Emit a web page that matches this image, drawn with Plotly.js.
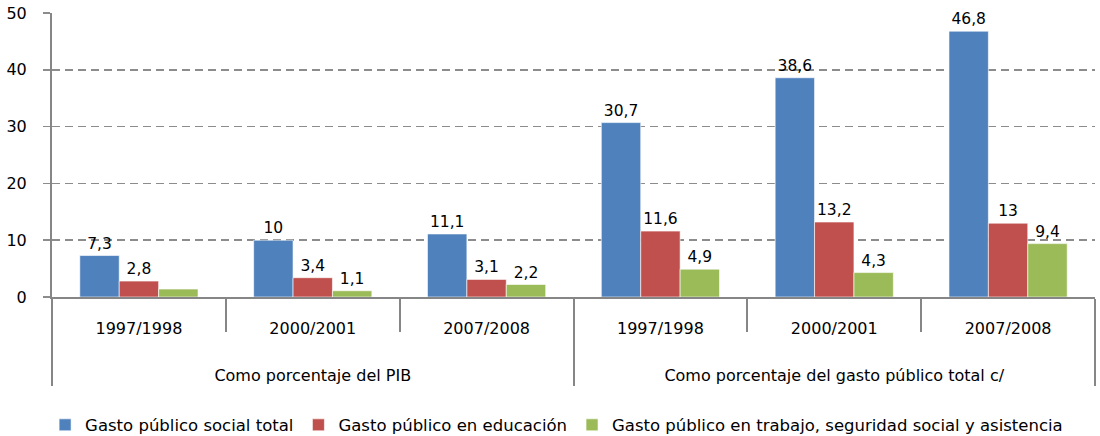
<!DOCTYPE html>
<html>
<head>
<meta charset="utf-8">
<script src="https://cdn.plot.ly/plotly-3.0.1.min.js"></script>
<style>html,body{margin:0;padding:0;background:#fff}#chart{width:1100px;height:436px}</style>
</head>
<body>
<div id="chart"></div>
<script>
var groups = ["Como porcentaje del PIB","Como porcentaje del PIB","Como porcentaje del PIB",
  "Como porcentaje del gasto público total c/","Como porcentaje del gasto público total c/","Como porcentaje del gasto público total c/"];
var periods = ["1997/1998","2000/2001","2007/2008","1997/1998","2000/2001","2007/2008"];
var seriesNames = ["Gasto público social total","Gasto público en educación","Gasto público en trabajo, seguridad social y asistencia"];
var socialTotal = [7.3, 10, 11.1, 30.7, 38.6, 46.8];
var educacion = [2.8, 3.4, 3.1, 11.6, 13.2, 13];
var trabajo = [1.4, 1.1, 2.2, 4.9, 4.3, 9.4];
var showLabel = [
  [true,true,true,true,true,true],
  [true,true,true,true,true,true],
  [false,true,true,true,true,true]
];
var colors = ["#4F81BD","#C0504D","#9BBB59"];
var values = [socialTotal, educacion, trabajo];

function fmt(v){ return String(v).replace('.', ','); }

var FONT = 'DejaVu Sans, Verdana, sans-serif';

var traces = values.map(function(vals, i){
  return {
    type: 'bar',
    name: seriesNames[i],
    x: [groups.map(function(g){ return '<br><br>' + g; }), periods],
    y: vals,
    text: vals.map(function(v, j){ return showLabel[i][j] ? fmt(v) : ''; }),
    textposition: 'outside',
    cliponaxis: false,
    textfont: {family: FONT, size: 15.5, color: '#000'},
    marker: {color: colors[i], line: {color: 'rgba(255,255,255,0.6)', width: 1}},
    hoverinfo: 'y'
  };
});

var layout = {
  width: 1100, height: 436,
  margin: {l: 52, r: 5, t: 13, b: 139},
  paper_bgcolor: '#fff', plot_bgcolor: '#fff',
  font: {family: FONT, size: 16, color: '#000'},
  barmode: 'group', bargap: 0.32, bargroupgap: 0,
  showlegend: true,
  legend: {orientation: 'h', xref: 'container', yref: 'container',
           x: 0.506, xanchor: 'center', y: 0.025, yanchor: 'middle',
           font: {family: FONT, size: 16.5}, itemwidth: 30, traceorder: 'normal'},
  xaxis: {
    type: 'multicategory',
    showline: true, linecolor: '#868686', linewidth: 2,
    ticks: 'outside', tickson: 'boundaries', ticklen: 33, tickcolor: '#868686', tickwidth: 2,
    ticklabelstandoff: 16,
    showdividers: true, dividercolor: '#868686', dividerwidth: 2,
    tickfont: {family: FONT, size: 16},
    showgrid: false, zeroline: false
  },
  yaxis: {
    range: [0, 50], dtick: 10, tick0: 0,
    showline: true, linecolor: '#868686', linewidth: 2,
    ticks: 'outside', ticklen: 7, tickcolor: '#8c8c8c', tickwidth: 1.5,
    ticklabelstandoff: 13,
    showgrid: true, gridcolor: '#8c8c8c', griddash: '8px,5px', gridwidth: 1.5,
    zeroline: false,
    tickfont: {family: FONT, size: 16}
  }
};

Plotly.newPlot('chart', traces, layout, {displayModeBar: false, staticPlot: true});
</script>
</body>
</html>
